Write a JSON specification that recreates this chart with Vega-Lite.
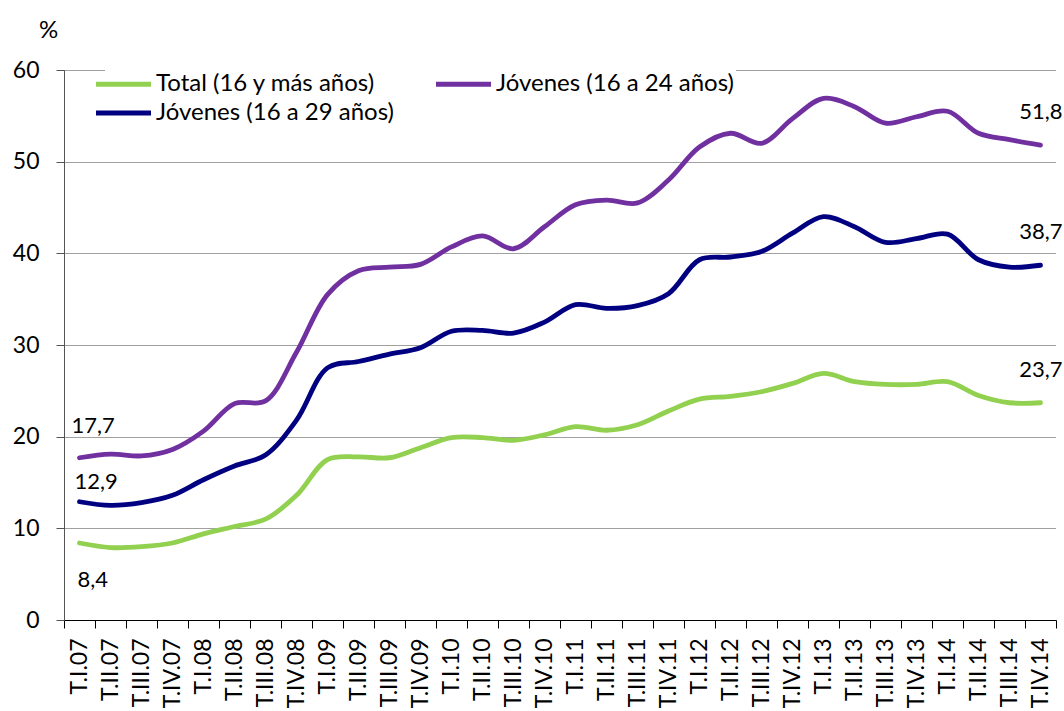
{
  "$schema": "https://vega.github.io/schema/vega-lite/v6.json",
  "width": 992,
  "height": 550,
  "autosize": {"type": "none"},
  "padding": {"left": 64, "top": 70, "right": 8, "bottom": 91},
  "background": "white",
  "config": {
    "view": {"stroke": null},
    "font": "Lato",
    "locale": {"number": {"decimal": ",", "thousands": ".", "grouping": [3], "currency": ["", " €"]}}
  },
  "data": {"values": [
    {"trimestre": "T.I.07", "serie": "Total (16 y más años)", "valor": 8.4},
    {"trimestre": "T.II.07", "serie": "Total (16 y más años)", "valor": 7.9},
    {"trimestre": "T.III.07", "serie": "Total (16 y más años)", "valor": 8.0},
    {"trimestre": "T.IV.07", "serie": "Total (16 y más años)", "valor": 8.4},
    {"trimestre": "T.I.08", "serie": "Total (16 y más años)", "valor": 9.4},
    {"trimestre": "T.II.08", "serie": "Total (16 y más años)", "valor": 10.2},
    {"trimestre": "T.III.08", "serie": "Total (16 y más años)", "valor": 11.0},
    {"trimestre": "T.IV.08", "serie": "Total (16 y más años)", "valor": 13.6},
    {"trimestre": "T.I.09", "serie": "Total (16 y más años)", "valor": 17.5},
    {"trimestre": "T.II.09", "serie": "Total (16 y más años)", "valor": 17.8},
    {"trimestre": "T.III.09", "serie": "Total (16 y más años)", "valor": 17.7},
    {"trimestre": "T.IV.09", "serie": "Total (16 y más años)", "valor": 18.8},
    {"trimestre": "T.I.10", "serie": "Total (16 y más años)", "valor": 19.9},
    {"trimestre": "T.II.10", "serie": "Total (16 y más años)", "valor": 19.9},
    {"trimestre": "T.III.10", "serie": "Total (16 y más años)", "valor": 19.6},
    {"trimestre": "T.IV.10", "serie": "Total (16 y más años)", "valor": 20.2},
    {"trimestre": "T.I.11", "serie": "Total (16 y más años)", "valor": 21.1},
    {"trimestre": "T.II.11", "serie": "Total (16 y más años)", "valor": 20.7},
    {"trimestre": "T.III.11", "serie": "Total (16 y más años)", "valor": 21.3},
    {"trimestre": "T.IV.11", "serie": "Total (16 y más años)", "valor": 22.8},
    {"trimestre": "T.I.12", "serie": "Total (16 y más años)", "valor": 24.1},
    {"trimestre": "T.II.12", "serie": "Total (16 y más años)", "valor": 24.4},
    {"trimestre": "T.III.12", "serie": "Total (16 y más años)", "valor": 24.9},
    {"trimestre": "T.IV.12", "serie": "Total (16 y más años)", "valor": 25.8},
    {"trimestre": "T.I.13", "serie": "Total (16 y más años)", "valor": 26.9},
    {"trimestre": "T.II.13", "serie": "Total (16 y más años)", "valor": 26.0},
    {"trimestre": "T.III.13", "serie": "Total (16 y más años)", "valor": 25.7},
    {"trimestre": "T.IV.13", "serie": "Total (16 y más años)", "valor": 25.7},
    {"trimestre": "T.I.14", "serie": "Total (16 y más años)", "valor": 26.0},
    {"trimestre": "T.II.14", "serie": "Total (16 y más años)", "valor": 24.5},
    {"trimestre": "T.III.14", "serie": "Total (16 y más años)", "valor": 23.7},
    {"trimestre": "T.IV.14", "serie": "Total (16 y más años)", "valor": 23.7},
    {"trimestre": "T.I.07", "serie": "Jóvenes (16 a 24 años)", "valor": 17.7},
    {"trimestre": "T.II.07", "serie": "Jóvenes (16 a 24 años)", "valor": 18.1},
    {"trimestre": "T.III.07", "serie": "Jóvenes (16 a 24 años)", "valor": 17.9},
    {"trimestre": "T.IV.07", "serie": "Jóvenes (16 a 24 años)", "valor": 18.6},
    {"trimestre": "T.I.08", "serie": "Jóvenes (16 a 24 años)", "valor": 20.6},
    {"trimestre": "T.II.08", "serie": "Jóvenes (16 a 24 años)", "valor": 23.6},
    {"trimestre": "T.III.08", "serie": "Jóvenes (16 a 24 años)", "valor": 23.9},
    {"trimestre": "T.IV.08", "serie": "Jóvenes (16 a 24 años)", "valor": 29.2},
    {"trimestre": "T.I.09", "serie": "Jóvenes (16 a 24 años)", "valor": 35.5},
    {"trimestre": "T.II.09", "serie": "Jóvenes (16 a 24 años)", "valor": 38.1},
    {"trimestre": "T.III.09", "serie": "Jóvenes (16 a 24 años)", "valor": 38.5},
    {"trimestre": "T.IV.09", "serie": "Jóvenes (16 a 24 años)", "valor": 38.8},
    {"trimestre": "T.I.10", "serie": "Jóvenes (16 a 24 años)", "valor": 40.7},
    {"trimestre": "T.II.10", "serie": "Jóvenes (16 a 24 años)", "valor": 41.9},
    {"trimestre": "T.III.10", "serie": "Jóvenes (16 a 24 años)", "valor": 40.5},
    {"trimestre": "T.IV.10", "serie": "Jóvenes (16 a 24 años)", "valor": 42.9},
    {"trimestre": "T.I.11", "serie": "Jóvenes (16 a 24 años)", "valor": 45.3},
    {"trimestre": "T.II.11", "serie": "Jóvenes (16 a 24 años)", "valor": 45.8},
    {"trimestre": "T.III.11", "serie": "Jóvenes (16 a 24 años)", "valor": 45.5},
    {"trimestre": "T.IV.11", "serie": "Jóvenes (16 a 24 años)", "valor": 48.0},
    {"trimestre": "T.I.12", "serie": "Jóvenes (16 a 24 años)", "valor": 51.6},
    {"trimestre": "T.II.12", "serie": "Jóvenes (16 a 24 años)", "valor": 53.1},
    {"trimestre": "T.III.12", "serie": "Jóvenes (16 a 24 años)", "valor": 52.0},
    {"trimestre": "T.IV.12", "serie": "Jóvenes (16 a 24 años)", "valor": 54.7},
    {"trimestre": "T.I.13", "serie": "Jóvenes (16 a 24 años)", "valor": 56.9},
    {"trimestre": "T.II.13", "serie": "Jóvenes (16 a 24 años)", "valor": 56.0},
    {"trimestre": "T.III.13", "serie": "Jóvenes (16 a 24 años)", "valor": 54.2},
    {"trimestre": "T.IV.13", "serie": "Jóvenes (16 a 24 años)", "valor": 54.9},
    {"trimestre": "T.I.14", "serie": "Jóvenes (16 a 24 años)", "valor": 55.5},
    {"trimestre": "T.II.14", "serie": "Jóvenes (16 a 24 años)", "valor": 53.1},
    {"trimestre": "T.III.14", "serie": "Jóvenes (16 a 24 años)", "valor": 52.4},
    {"trimestre": "T.IV.14", "serie": "Jóvenes (16 a 24 años)", "valor": 51.8},
    {"trimestre": "T.I.07", "serie": "Jóvenes (16 a 29 años)", "valor": 12.9},
    {"trimestre": "T.II.07", "serie": "Jóvenes (16 a 29 años)", "valor": 12.5},
    {"trimestre": "T.III.07", "serie": "Jóvenes (16 a 29 años)", "valor": 12.8},
    {"trimestre": "T.IV.07", "serie": "Jóvenes (16 a 29 años)", "valor": 13.6},
    {"trimestre": "T.I.08", "serie": "Jóvenes (16 a 29 años)", "valor": 15.3},
    {"trimestre": "T.II.08", "serie": "Jóvenes (16 a 29 años)", "valor": 16.8},
    {"trimestre": "T.III.08", "serie": "Jóvenes (16 a 29 años)", "valor": 18.0},
    {"trimestre": "T.IV.08", "serie": "Jóvenes (16 a 29 años)", "valor": 21.8},
    {"trimestre": "T.I.09", "serie": "Jóvenes (16 a 29 años)", "valor": 27.5},
    {"trimestre": "T.II.09", "serie": "Jóvenes (16 a 29 años)", "valor": 28.2},
    {"trimestre": "T.III.09", "serie": "Jóvenes (16 a 29 años)", "valor": 29.0},
    {"trimestre": "T.IV.09", "serie": "Jóvenes (16 a 29 años)", "valor": 29.7},
    {"trimestre": "T.I.10", "serie": "Jóvenes (16 a 29 años)", "valor": 31.5},
    {"trimestre": "T.II.10", "serie": "Jóvenes (16 a 29 años)", "valor": 31.6},
    {"trimestre": "T.III.10", "serie": "Jóvenes (16 a 29 años)", "valor": 31.3},
    {"trimestre": "T.IV.10", "serie": "Jóvenes (16 a 29 años)", "valor": 32.5},
    {"trimestre": "T.I.11", "serie": "Jóvenes (16 a 29 años)", "valor": 34.4},
    {"trimestre": "T.II.11", "serie": "Jóvenes (16 a 29 años)", "valor": 34.0},
    {"trimestre": "T.III.11", "serie": "Jóvenes (16 a 29 años)", "valor": 34.3},
    {"trimestre": "T.IV.11", "serie": "Jóvenes (16 a 29 años)", "valor": 35.6},
    {"trimestre": "T.I.12", "serie": "Jóvenes (16 a 29 años)", "valor": 39.3},
    {"trimestre": "T.II.12", "serie": "Jóvenes (16 a 29 años)", "valor": 39.6},
    {"trimestre": "T.III.12", "serie": "Jóvenes (16 a 29 años)", "valor": 40.2},
    {"trimestre": "T.IV.12", "serie": "Jóvenes (16 a 29 años)", "valor": 42.2},
    {"trimestre": "T.I.13", "serie": "Jóvenes (16 a 29 años)", "valor": 44.0},
    {"trimestre": "T.II.13", "serie": "Jóvenes (16 a 29 años)", "valor": 42.9},
    {"trimestre": "T.III.13", "serie": "Jóvenes (16 a 29 años)", "valor": 41.2},
    {"trimestre": "T.IV.13", "serie": "Jóvenes (16 a 29 años)", "valor": 41.6},
    {"trimestre": "T.I.14", "serie": "Jóvenes (16 a 29 años)", "valor": 42.1},
    {"trimestre": "T.II.14", "serie": "Jóvenes (16 a 29 años)", "valor": 39.3},
    {"trimestre": "T.III.14", "serie": "Jóvenes (16 a 29 años)", "valor": 38.5},
    {"trimestre": "T.IV.14", "serie": "Jóvenes (16 a 29 años)", "valor": 38.7}
  ]},
  "encoding": {
    "x": {
      "field": "trimestre", "type": "ordinal", "sort": null, "bandPosition": 0.5,
      "scale": {"type": "band", "paddingInner": 0, "paddingOuter": 0},
      "axis": {
        "title": null, "labelAngle": -90, "labelFontSize": 23, "labelColor": "#000",
        "labelPadding": 10, "tickSize": 8, "tickBand": "extent", "tickColor": "#000",
        "domainColor": "#000", "domainWidth": 1.2, "tickWidth": 1, "labelFont": "Lato"
      }
    },
    "y": {
      "field": "valor", "type": "quantitative",
      "scale": {"domain": [0, 60], "nice": false},
      "axis": {
        "values": [0, 10, 20, 30, 40, 50, 60], "title": "%", "titleAngle": 0,
        "titleX": -16, "titleY": -40, "titleAlign": "center", "titleBaseline": "middle",
        "titleFontSize": 24, "titleFontWeight": "normal", "titleColor": "#000", "titleFont": "Lato",
        "labelFontSize": 23, "labelColor": "#000", "labelPadding": 17, "labelFont": "Lato",
        "tickSize": 8, "tickColor": "#555", "domainColor": "#555",
        "grid": true, "gridColor": "#000", "gridDash": [1, 1], "gridOpacity": 0.75, "gridWidth": 1
      }
    }
  },
  "layer": [
    {
      "mark": {"type": "line", "interpolate": "catmull-rom", "strokeWidth": 4.8, "strokeCap": "round", "strokeJoin": "round"},
      "encoding": {
        "color": {
          "field": "serie", "type": "nominal",
          "scale": {
            "domain": ["Total (16 y más años)", "Jóvenes (16 a 24 años)", "Jóvenes (16 a 29 años)"],
            "range": ["#92D050", "#7030A0", "#000080"]
          },
          "legend": {
            "title": null, "orient": "none", "legendX": 41, "legendY": -4.5, "direction": "horizontal",
            "columns": 2, "columnPadding": 32, "rowPadding": -1,
            "symbolType": "M-2,0H2", "symbolSize": 756, "symbolStrokeWidth": 4.8,
            "labelFontSize": 24, "labelColor": "#000", "labelOffset": 16, "labelFont": "Lato",
            "fillColor": "white", "padding": 2, "labelLimit": 400
          }
        }
      }
    },
    {
      "transform": [{"filter": "datum.trimestre == 'T.I.07' && datum.serie == 'Jóvenes (16 a 24 años)'"}],
      "mark": {"type": "text", "align": "left", "baseline": "middle", "dx": -8, "dy": -32, "fontSize": 22, "font": "Lato", "color": "#000"},
      "encoding": {"text": {"field": "valor", "type": "quantitative", "format": ".1f"}}
    },
    {
      "transform": [{"filter": "datum.trimestre == 'T.I.07' && datum.serie == 'Jóvenes (16 a 29 años)'"}],
      "mark": {"type": "text", "align": "left", "baseline": "middle", "dx": -5, "dy": -20, "fontSize": 22, "font": "Lato", "color": "#000"},
      "encoding": {"text": {"field": "valor", "type": "quantitative", "format": ".1f"}}
    },
    {
      "transform": [{"filter": "datum.trimestre == 'T.I.07' && datum.serie == 'Total (16 y más años)'"}],
      "mark": {"type": "text", "align": "left", "baseline": "middle", "dx": -2, "dy": 37, "fontSize": 22, "font": "Lato", "color": "#000"},
      "encoding": {"text": {"field": "valor", "type": "quantitative", "format": ".1f"}}
    },
    {
      "transform": [{"filter": "datum.trimestre == 'T.IV.14'"}],
      "mark": {"type": "text", "align": "right", "baseline": "middle", "dx": 22, "dy": -33, "fontSize": 22, "font": "Lato", "color": "#000"},
      "encoding": {"text": {"field": "valor", "type": "quantitative", "format": ".1f"}}
    }
  ]
}
